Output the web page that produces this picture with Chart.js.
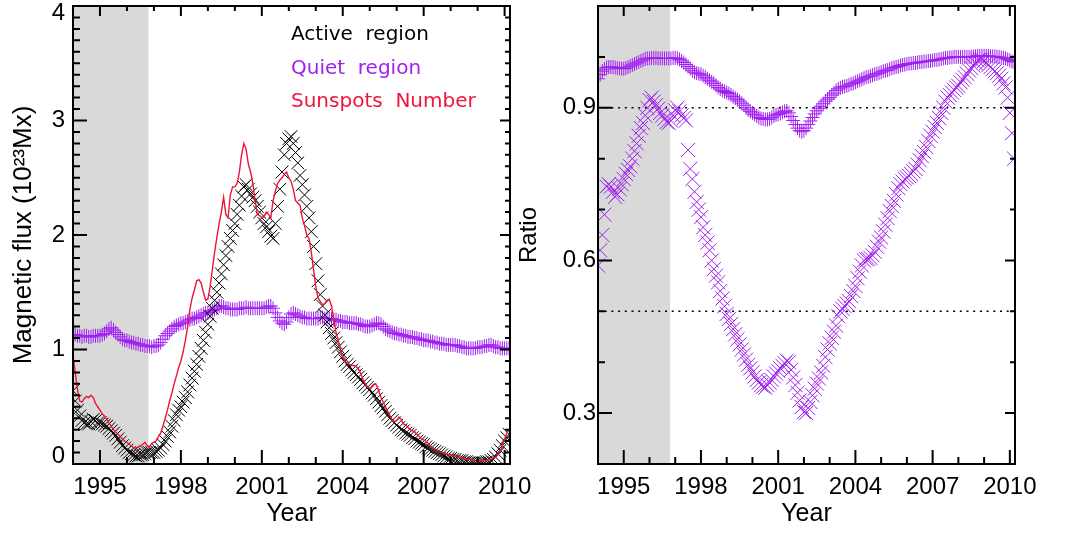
<!DOCTYPE html>
<html>
<head>
<meta charset="utf-8">
<script src="https://cdn.jsdelivr.net/npm/chart.js@4"></script>
<style>
  html, body { margin: 0; padding: 0; background: #fff; }
  body { width: 1067px; height: 533px; position: relative; overflow: hidden; }
  .panel { position: absolute; top: 0; height: 533px; }
  #left { left: 0; width: 560px; }
  #right { left: 510px; width: 557px; }
</style>
</head>
<body>
<div class="panel" id="left"><canvas id="fluxChart"></canvas></div>
<div class="panel" id="right"><canvas id="ratioChart"></canvas></div>
<script>
// monthly samples, first one at 1994.0
const START_YEAR = 1994
const PER_YEAR = 12
const xRange = [1994, 2010.2]
const shadeYears = [1994, 1996.8]
const yearTicks = [1995, 1998, 2001, 2004, 2007, 2010]
const fluxTicks = [0, 1, 2, 3, 4]
const ratioTicks = [0.3, 0.6, 0.9]
const ratioGuides = [0.9, 0.5]
const legendLabels = ["Active  region", "Quiet  region", "Sunspots  Number"]

// magnetic flux of active regions (10^23 Mx)
const activeFlux = [
  0.64, 0.55, 0.47, 0.42, 0.38, 0.36, 0.35, 0.35, 0.37, 0.39, 0.38, 0.36,
  0.36, 0.35, 0.34, 0.33, 0.31, 0.29, 0.27, 0.25, 0.22, 0.19, 0.16, 0.14,
  0.12, 0.10, 0.09, 0.08, 0.07, 0.07, 0.08, 0.08, 0.09, 0.10, 0.10, 0.10,
  0.10, 0.11, 0.12, 0.14, 0.17, 0.20, 0.24, 0.28, 0.33, 0.38, 0.43, 0.47,
  0.50, 0.54, 0.58, 0.63, 0.69, 0.75, 0.81, 0.87, 0.94, 1.01, 1.08, 1.15,
  1.22, 1.29, 1.36, 1.43, 1.50, 1.58, 1.66, 1.74, 1.82, 1.90, 1.97, 2.04,
  2.10, 2.18, 2.26, 2.34, 2.42, 2.44, 2.40, 2.36, 2.33, 2.30, 2.25, 2.20,
  2.15, 2.10, 2.07, 2.03, 1.99, 1.97, 2.10, 2.25, 2.40, 2.55, 2.70, 2.80,
  2.84, 2.86, 2.80, 2.72, 2.63, 2.52, 2.44, 2.35, 2.25, 2.15, 2.03, 1.90,
  1.75, 1.60, 1.48, 1.38, 1.30, 1.24, 1.19, 1.14, 1.10, 1.06, 1.02, 0.98,
  0.94, 0.90, 0.87, 0.85, 0.82, 0.80, 0.78, 0.76, 0.74, 0.71, 0.69, 0.67,
  0.65, 0.62, 0.60, 0.57, 0.54, 0.51, 0.49, 0.46, 0.43, 0.40, 0.38, 0.36,
  0.34, 0.32, 0.30, 0.29, 0.27, 0.26, 0.25, 0.23, 0.22, 0.20, 0.19, 0.18,
  0.17, 0.15, 0.14, 0.13, 0.12, 0.11, 0.10, 0.09, 0.08, 0.07, 0.06, 0.05,
  0.05, 0.04, 0.04, 0.03, 0.03, 0.03, 0.02, 0.02, 0.01, 0.01, 0.01, 0.01,
  0.01, 0.01, 0.01, 0.01, 0.02, 0.02, 0.03, 0.04, 0.06, 0.09, 0.12, 0.16,
  0.20, 0.23, 0.26
]

// magnetic flux of quiet regions (10^23 Mx)
const quietFlux = [
  1.13, 1.13, 1.12, 1.12, 1.11, 1.12, 1.12, 1.11, 1.11, 1.12, 1.12, 1.12,
  1.12, 1.13, 1.14, 1.16, 1.18, 1.19, 1.17, 1.15, 1.13, 1.11, 1.09, 1.08,
  1.08, 1.07, 1.06, 1.06, 1.05, 1.05, 1.04, 1.04, 1.03, 1.03, 1.03, 1.02,
  1.03, 1.03, 1.04, 1.06, 1.09, 1.12, 1.14, 1.16, 1.18, 1.20, 1.21, 1.22,
  1.23, 1.23, 1.24, 1.25, 1.26, 1.27, 1.27, 1.28, 1.29, 1.30, 1.31, 1.32,
  1.32, 1.33, 1.34, 1.35, 1.36, 1.38, 1.38, 1.37, 1.36, 1.36, 1.35, 1.35,
  1.35, 1.35, 1.36, 1.36, 1.36, 1.37, 1.36, 1.36, 1.36, 1.36, 1.36, 1.36,
  1.36, 1.36, 1.37, 1.38, 1.38, 1.36, 1.32, 1.28, 1.25, 1.23, 1.22, 1.24,
  1.28, 1.31, 1.32, 1.31, 1.30, 1.29, 1.28, 1.28, 1.27, 1.27, 1.27, 1.27,
  1.27, 1.27, 1.28, 1.28, 1.27, 1.27, 1.27, 1.27, 1.26, 1.26, 1.25, 1.25,
  1.24, 1.24, 1.24, 1.23, 1.23, 1.23, 1.23, 1.22, 1.22, 1.21, 1.20, 1.20,
  1.20, 1.21, 1.22, 1.23, 1.23, 1.22, 1.20, 1.18, 1.17, 1.16, 1.15, 1.14,
  1.14, 1.13, 1.13, 1.12, 1.12, 1.11, 1.11, 1.11, 1.10, 1.10, 1.09, 1.09,
  1.08, 1.08, 1.08, 1.07, 1.07, 1.06, 1.06, 1.05, 1.05, 1.05, 1.04, 1.04,
  1.04, 1.04, 1.04, 1.03, 1.03, 1.02, 1.02, 1.01, 1.01, 1.01, 1.01, 1.01,
  1.02, 1.02, 1.02, 1.03, 1.03, 1.04, 1.04, 1.03, 1.02, 1.02, 1.01, 1.01,
  1.01, 1.01, 1.01
]

// sunspot number, scaled onto the flux axis
const sunspots = [
  0.95, 0.80, 0.65, 0.55, 0.54, 0.57, 0.59, 0.58, 0.60, 0.58, 0.53, 0.50,
  0.47, 0.44, 0.42, 0.39, 0.36, 0.33, 0.30, 0.28, 0.26, 0.24, 0.22, 0.20,
  0.19, 0.17, 0.16, 0.14, 0.14, 0.15, 0.16, 0.17, 0.19, 0.16, 0.15, 0.18,
  0.19, 0.20, 0.24, 0.27, 0.33, 0.40, 0.47, 0.55, 0.62, 0.70, 0.77, 0.84,
  0.90, 0.98, 1.08, 1.20, 1.35, 1.45, 1.52, 1.60, 1.61, 1.58, 1.50, 1.43,
  1.44, 1.55, 1.70, 1.85, 1.98, 2.10, 2.20, 2.33, 2.18, 2.15, 2.35, 2.42,
  2.42, 2.45, 2.55, 2.70, 2.80, 2.75, 2.62, 2.55, 2.45, 2.30, 2.18, 2.17,
  2.15, 2.16, 2.20, 2.18, 2.15, 2.30, 2.38, 2.45, 2.48, 2.50, 2.53, 2.55,
  2.50, 2.47, 2.40, 2.30, 2.28, 2.26, 2.15, 2.08, 2.00, 1.97, 1.85, 1.70,
  1.55, 1.45, 1.42, 1.39, 1.40, 1.43, 1.44, 1.38, 1.26, 1.15, 1.08, 1.00,
  0.93, 0.90, 0.88, 0.87, 0.86, 0.86, 0.85, 0.83, 0.79, 0.74, 0.70, 0.67,
  0.66, 0.68, 0.70, 0.69, 0.64, 0.58, 0.54, 0.50, 0.46, 0.42, 0.38, 0.37,
  0.38, 0.41, 0.39, 0.35, 0.34, 0.32, 0.30, 0.29, 0.28, 0.26, 0.24, 0.22,
  0.21, 0.20, 0.18, 0.16, 0.14, 0.13, 0.12, 0.11, 0.10, 0.09, 0.09, 0.08,
  0.08, 0.07, 0.07, 0.06, 0.06, 0.05, 0.05, 0.04, 0.04, 0.04, 0.03, 0.03,
  0.03, 0.03, 0.03, 0.03, 0.03, 0.04, 0.04, 0.05, 0.06, 0.08, 0.11, 0.16,
  0.22, 0.27, 0.30
]

// ratio, quiet-region series (+)
const ratioQuiet = [
  0.957, 0.965, 0.972, 0.976, 0.979, 0.980, 0.980, 0.980, 0.979, 0.978, 0.977, 0.977,
  0.977, 0.978, 0.980, 0.982, 0.984, 0.986, 0.988, 0.990, 0.992, 0.994, 0.996, 0.997,
  0.997, 0.998, 0.998, 0.998, 0.997, 0.997, 0.997, 0.997, 0.997, 0.997, 0.997, 0.998,
  0.998, 0.997, 0.995, 0.992, 0.989, 0.985, 0.981, 0.977, 0.973, 0.970, 0.968, 0.967,
  0.966, 0.963, 0.960, 0.957, 0.954, 0.951, 0.948, 0.944, 0.940, 0.937, 0.934, 0.932,
  0.930, 0.928, 0.925, 0.922, 0.919, 0.916, 0.913, 0.909, 0.905, 0.900, 0.896, 0.893,
  0.890, 0.887, 0.884, 0.881, 0.879, 0.878, 0.877, 0.877, 0.878, 0.881, 0.884, 0.886,
  0.887, 0.889, 0.891, 0.893, 0.894, 0.890, 0.883, 0.875, 0.867, 0.860, 0.855, 0.853,
  0.855, 0.860, 0.867, 0.874, 0.881, 0.888, 0.894, 0.899, 0.903, 0.908, 0.913, 0.917,
  0.920, 0.925, 0.929, 0.934, 0.937, 0.939, 0.941, 0.942, 0.943, 0.945, 0.947, 0.948,
  0.950, 0.952, 0.954, 0.956, 0.958, 0.960, 0.961, 0.962, 0.964, 0.966, 0.967, 0.968,
  0.970, 0.972, 0.973, 0.974, 0.976, 0.978, 0.979, 0.980, 0.981, 0.983, 0.984, 0.985,
  0.986, 0.987, 0.987, 0.988, 0.988, 0.989, 0.990, 0.990, 0.991, 0.991, 0.992, 0.992,
  0.993, 0.994, 0.994, 0.995, 0.996, 0.997, 0.998, 0.998, 0.999, 0.999, 1.000, 1.000,
  1.000, 1.000, 1.000, 1.000, 1.000, 1.000, 1.000, 1.001, 1.001, 1.002, 1.002, 1.002,
  1.002, 1.002, 1.002, 1.001, 1.001, 1.001, 1.000, 1.000, 0.999, 0.998, 0.997, 0.995,
  0.993, 0.991, 0.990
]

// ratio, active-region series (x)
const ratioActive = [
  0.590, 0.620, 0.650, 0.690, 0.745, 0.750, 0.745, 0.735, 0.725, 0.730, 0.740, 0.750,
  0.760, 0.770, 0.778, 0.785, 0.800, 0.815, 0.830, 0.845, 0.860, 0.870, 0.885, 0.900,
  0.915, 0.920, 0.912, 0.905, 0.898, 0.890, 0.885, 0.878, 0.872, 0.870, 0.875, 0.885,
  0.895, 0.900, 0.893, 0.885, 0.880, 0.875, 0.817, 0.780, 0.760, 0.735, 0.715, 0.700,
  0.685, 0.665, 0.650, 0.635, 0.620, 0.600, 0.583, 0.570, 0.557, 0.540, 0.525, 0.510,
  0.495, 0.485, 0.475, 0.465, 0.455, 0.445, 0.435, 0.425, 0.415, 0.405, 0.395, 0.388,
  0.380, 0.372, 0.365, 0.360, 0.355, 0.352, 0.350, 0.355, 0.360, 0.365, 0.372, 0.378,
  0.383, 0.388, 0.393, 0.398, 0.403, 0.400, 0.385, 0.370, 0.355, 0.340, 0.325, 0.312,
  0.302, 0.300, 0.310, 0.322, 0.335, 0.348, 0.358, 0.368, 0.380, 0.393, 0.410, 0.425,
  0.437, 0.448, 0.460, 0.472, 0.490, 0.500, 0.505, 0.510, 0.515, 0.520, 0.530, 0.540,
  0.550, 0.565, 0.578, 0.590, 0.600, 0.603, 0.603, 0.605, 0.610, 0.617, 0.627, 0.637,
  0.645, 0.657, 0.670, 0.683, 0.697, 0.707, 0.717, 0.730, 0.742, 0.750, 0.755, 0.760,
  0.763, 0.766, 0.770, 0.775, 0.780, 0.788, 0.797, 0.805, 0.813, 0.823, 0.835, 0.845,
  0.853, 0.862, 0.870, 0.880, 0.890, 0.900, 0.912, 0.920, 0.925, 0.930, 0.935, 0.940,
  0.943, 0.950, 0.955, 0.960, 0.967, 0.973, 0.978, 0.983, 0.988, 0.993, 0.995, 0.995,
  0.992, 0.988, 0.984, 0.980, 0.976, 0.972, 0.968, 0.963, 0.957, 0.948, 0.940, 0.920,
  0.890, 0.850, 0.800
]

const BLACK = "#000000"
const PURPLE = "#a020f0"
const RED = "#f0143c"
const AXIS_FONT = "'Liberation Sans', Arial, Helvetica, sans-serif"

const points = arr => arr.map((v, i) => ({ x: START_YEAR + i / PER_YEAR, y: v }))

function steps(min, max, step) {
  const out = []
  for (let k = Math.ceil(min / step - 1e-6); k * step <= max + 1e-6; k++) out.push(k * step)
  return out
}

// gray band, box frame with inward ticks on all sides, text legend
const idlFrame = {
  id: "idlFrame",
  beforeDatasetsDraw(chart) {
    const { ctx, chartArea: a } = chart
    const x = chart.scales.x
    const x0 = x.getPixelForValue(shadeYears[0])
    const x1 = x.getPixelForValue(shadeYears[1])
    ctx.save()
    ctx.fillStyle = "#d9d9d9"
    ctx.fillRect(x0, a.top, x1 - x0, a.bottom - a.top)
    ctx.restore()
  },
  afterDraw(chart, args, o) {
    const { ctx, chartArea: a } = chart
    const { x, y } = chart.scales
    const isMajor = (list, v) => list.some(m => Math.abs(m - v) < 1e-6)
    ctx.save()
    ctx.strokeStyle = BLACK
    ctx.lineWidth = 2
    ctx.strokeRect(a.left, a.top, a.right - a.left, a.bottom - a.top)
    ctx.beginPath()
    steps(x.min, x.max, o.xStep).forEach(v => {
      const major = isMajor(yearTicks, v)
      const px = x.getPixelForValue(v)
      ctx.moveTo(px, a.bottom); ctx.lineTo(px, a.bottom - (major ? 14 : 7))
      ctx.moveTo(px, a.top); ctx.lineTo(px, a.top + (major ? 10 : 5))
    })
    steps(y.min, y.max, o.yStep).forEach(v => {
      const major = isMajor(o.yMajor, v)
      const py = y.getPixelForValue(v)
      ctx.moveTo(a.left, py); ctx.lineTo(a.left + (major ? 14 : 7), py)
      ctx.moveTo(a.right, py); ctx.lineTo(a.right - (major ? 10 : 5), py)
    })
    ctx.stroke()
    if (o.legend) {
      ctx.font = "20px 'DejaVu Sans', sans-serif"
      ctx.textBaseline = "alphabetic"
      ctx.textAlign = "left"
      o.legend.forEach((item, i) => {
        ctx.fillStyle = item.color
        ctx.fillText(item.text, a.left + 218, a.top + 34 + i * 33.7)
      })
    }
    ctx.restore()
  }
}

function scales(cfg) {
  return {
    x: {
      type: "linear", min: xRange[0], max: xRange[1],
      grid: { display: false, drawTicks: false },
      border: { display: false },
      afterBuildTicks: s => { s.ticks = yearTicks.map(v => ({ value: v })) },
      afterFit: s => { s.height = 69; s.paddingLeft = 0; s.paddingRight = 0 },
      ticks: {
        autoSkip: false, maxRotation: 0, minRotation: 0, padding: 9, color: BLACK,
        font: { family: AXIS_FONT, size: 24 },
        callback: v => String(v)
      },
      title: {
        display: true, text: "Year", color: BLACK,
        font: { family: AXIS_FONT, size: 25 },
        padding: { top: 0, bottom: 4 }
      }
    },
    y: {
      type: "linear", min: cfg.yMin, max: cfg.yMax,
      grid: { display: false, drawTicks: false },
      border: { display: false },
      afterBuildTicks: s => { s.ticks = cfg.yTicks.map(v => ({ value: v })) },
      afterFit: s => { s.width = cfg.yWidth; s.paddingTop = 0; s.paddingBottom = 0 },
      ticks: {
        autoSkip: false, padding: cfg.yPad, color: BLACK,
        font: { family: AXIS_FONT, size: 24, lineHeight: 0.65 },
        callback: cfg.yFormat
      },
      title: {
        display: true, text: cfg.yTitle, color: BLACK,
        font: { family: AXIS_FONT, size: cfg.yTitleSize },
        padding: { top: cfg.yTitlePad, bottom: 0 }
      }
    }
  }
}

const common = {
  responsive: true,
  maintainAspectRatio: false,
  animation: false,
  devicePixelRatio: 1,
  events: []
}

// left panel: magnetic flux
new Chart(document.getElementById("fluxChart"), {
  type: "line",
  data: {
    datasets: [
      {
        label: "Sunspots Number", data: points(sunspots),
        borderColor: RED, borderWidth: 1.4, pointRadius: 0, tension: 0
      },
      {
        label: "Active region", data: points(activeFlux), showLine: false,
        pointStyle: "crossRot", pointRadius: 9, pointBorderWidth: 1,
        pointBorderColor: BLACK, borderColor: BLACK
      },
      {
        label: "Quiet region", data: points(quietFlux), showLine: false,
        pointStyle: "cross", pointRadius: 7, pointBorderWidth: 1,
        pointBorderColor: PURPLE, borderColor: PURPLE
      }
    ]
  },
  options: {
    ...common,
    layout: { autoPadding: false, padding: { top: 6, right: 50, bottom: 0, left: 0 } },
    scales: scales({
      yMin: fluxTicks[0], yMax: fluxTicks[fluxTicks.length - 1], yTicks: fluxTicks,
      yWidth: 73, yPad: 8, yTitle: "Magnetic flux (10²³Mx)", yTitleSize: 26, yTitlePad: 8,
      // edge labels sit inside the box, as in the original
      yFormat: v => v === fluxTicks[fluxTicks.length - 1] ? ["", String(v)]
        : v === fluxTicks[0] ? [String(v), ""] : String(v)
    }),
    plugins: {
      legend: { display: false },
      tooltip: { enabled: false },
      idlFrame: {
        xStep: 1, yStep: 0.1, yMajor: fluxTicks,
        legend: legendLabels.map((t, i) => ({ text: t, color: [BLACK, PURPLE, RED][i] }))
      }
    }
  },
  plugins: [idlFrame]
})

// right panel: ratio
new Chart(document.getElementById("ratioChart"), {
  type: "line",
  data: {
    datasets: [
      {
        label: "active ratio", data: points(ratioActive), showLine: false,
        pointStyle: "crossRot", pointRadius: 10, pointBorderWidth: 1,
        pointBorderColor: PURPLE, borderColor: PURPLE
      },
      {
        label: "quiet ratio", data: points(ratioQuiet), showLine: false,
        pointStyle: "cross", pointRadius: 7, pointBorderWidth: 1,
        pointBorderColor: PURPLE, borderColor: PURPLE
      },
      ...ratioGuides.map(level => ({
        label: "guide " + level,
        data: [{ x: xRange[0], y: level }, { x: xRange[1], y: level }],
        borderColor: BLACK, borderWidth: 1.5, borderDash: [2, 4.7], pointRadius: 0
      }))
    ]
  },
  options: {
    ...common,
    layout: { autoPadding: false, padding: { top: 6, right: 52, bottom: 0, left: 0 } },
    scales: scales({
      yMin: 0.2, yMax: 1.1, yTicks: ratioTicks,
      yWidth: 88, yPad: 2, yTitle: "Ratio", yTitleSize: 24, yTitlePad: 5,
      yFormat: v => v.toFixed(1)
    }),
    plugins: {
      legend: { display: false },
      tooltip: { enabled: false },
      idlFrame: { xStep: 1, yStep: 0.1, yMajor: ratioTicks }
    }
  },
  plugins: [idlFrame]
})
</script>
</body>
</html>
